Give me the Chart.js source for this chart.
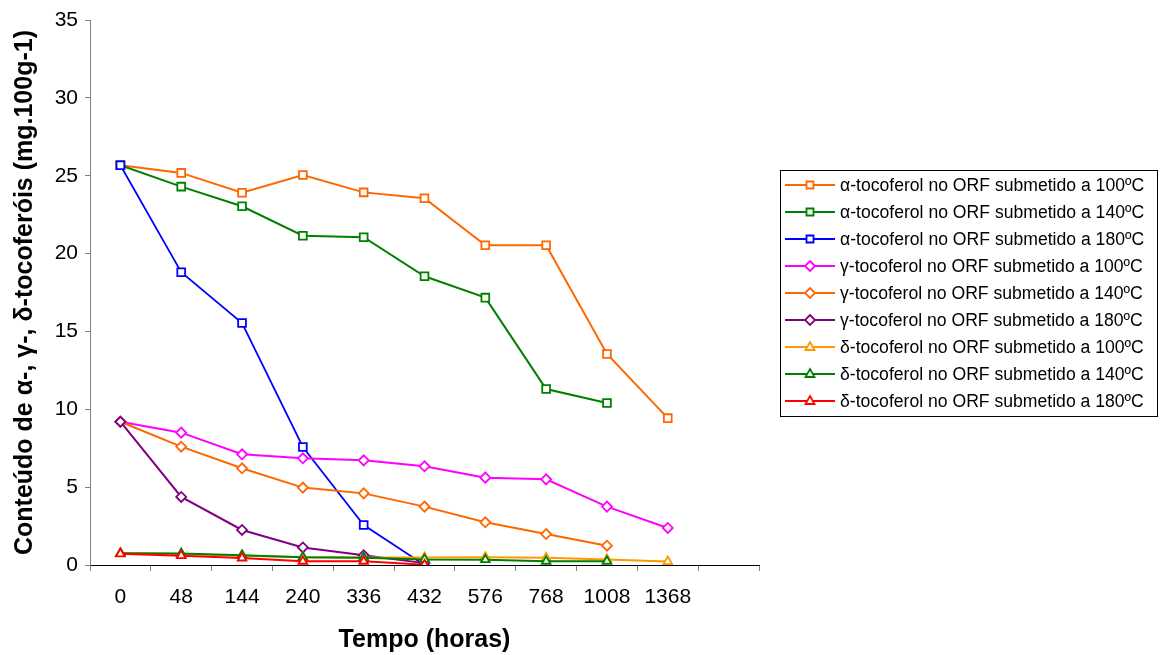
<!DOCTYPE html>
<html lang="pt">
  <head>
    <meta charset="UTF-8" />
    <title>Tocoferóis</title>
    <script src="https://cdn.jsdelivr.net/npm/chart.js@4"></script>
    <style>
      body { margin: 0; background: #fff; }
    </style>
  </head>
  <body>
    <canvas id="myChart" width="1160" height="655"></canvas>
    <script>
      // categorias do eixo x (o último espaço fica vazio, como no original)
      const tempos = ["0", "48", "144", "240", "336", "432", "576", "768", "1008", "1368", ""];

      const alfa100 = [25.67, 25.18, 23.91, 25.05, 23.93, 23.55, 20.53, 20.53, 13.55, 9.43];
      const alfa140 = [25.67, 24.3, 23.04, 21.15, 21.05, 18.54, 17.17, 11.3, 10.4];
      const alfa180 = [25.67, 18.8, 15.54, 7.58, 2.57, 0];
      const gama100 = [9.2, 8.5, 7.11, 6.85, 6.72, 6.34, 5.61, 5.5, 3.75, 2.38];
      const gama140 = [9.2, 7.6, 6.21, 4.97, 4.6, 3.75, 2.74, 1.99, 1.24];
      const gama180 = [9.2, 4.37, 2.25, 1.13, 0.62, 0.12];
      const delta100 = [0.75, 0.7, 0.6, 0.5, 0.48, 0.48, 0.5, 0.46, 0.36, 0.22];
      const delta140 = [0.75, 0.74, 0.63, 0.5, 0.47, 0.36, 0.34, 0.24, 0.24];
      const delta180 = [0.72, 0.6, 0.45, 0.24, 0.24, 0.02];

      const FONT = "'Liberation Sans', Arial, sans-serif";

      function serie(label, data, color, style, width) {
        return {
          label: label,
          data: data,
          borderColor: color,
          borderWidth: width || 2,
          backgroundColor: "#fff",
          pointStyle: style,
          pointRadius: style === "rect" ? 5.5 : 5,
          pointBorderWidth: 1.8,
          pointBorderColor: color,
          pointBackgroundColor: "#fff",
          tension: 0,
        };
      }

      const datasets = [
        serie("α-tocoferol no ORF submetido a 100ºC", alfa100, "#FF6600", "rect"),
        serie("α-tocoferol no ORF submetido a 140ºC", alfa140, "#008000", "rect"),
        serie("α-tocoferol no ORF submetido a 180ºC", alfa180, "#0000FF", "rect", 1.75),
        serie("γ-tocoferol no ORF submetido a 100ºC", gama100, "#FF00FF", "rectRot"),
        serie("γ-tocoferol no ORF submetido a 140ºC", gama140, "#FF6600", "rectRot"),
        serie("γ-tocoferol no ORF submetido a 180ºC", gama180, "#800080", "rectRot"),
        serie("δ-tocoferol no ORF submetido a 100ºC", delta100, "#FF9900", "triangle"),
        serie("δ-tocoferol no ORF submetido a 140ºC", delta140, "#008000", "triangle"),
        serie("δ-tocoferol no ORF submetido a 180ºC", delta180, "#FF0000", "triangle"),
      ];
      // séries posteriores desenhadas por cima (como no Excel)
      datasets.forEach((d, i) => (d.order = -i));

      function marker(ctx, style, x, y) {
        ctx.beginPath();
        if (style === "rect") {
          ctx.rect(x - 3.5, y - 3.5, 7, 7);
        } else if (style === "rectRot") {
          ctx.moveTo(x, y - 5);
          ctx.lineTo(x + 5, y);
          ctx.lineTo(x, y + 5);
          ctx.lineTo(x - 5, y);
          ctx.closePath();
        } else {
          ctx.moveTo(x, y - 5);
          ctx.lineTo(x + 4.5, y + 3);
          ctx.lineTo(x - 4.5, y + 3);
          ctx.closePath();
        }
        ctx.fill();
        ctx.stroke();
      }

      // legenda com caixa, à direita
      const legendBox = {
        id: "legendBox",
        afterDraw(chart) {
          const ctx = chart.ctx;
          const x0 = 780, y0 = 170, w = 377, h = 246;
          ctx.save();
          ctx.strokeStyle = "#000";
          ctx.lineWidth = 1;
          ctx.strokeRect(x0 + 0.5, y0 + 0.5, w, h);
          ctx.font = "17.6px " + FONT;
          ctx.textBaseline = "middle";
          ctx.fillStyle = "#000";
          chart.data.datasets.forEach((ds, i) => {
            const y = y0 + 15 + i * 27;
            ctx.strokeStyle = ds.borderColor;
            ctx.lineWidth = 2;
            ctx.beginPath();
            ctx.moveTo(785, y);
            ctx.lineTo(835, y);
            ctx.stroke();
            ctx.fillStyle = "#fff";
            ctx.lineWidth = 1.8;
            marker(ctx, ds.pointStyle, 810, y);
            ctx.fillStyle = "#000";
            ctx.fillText(ds.label, 840, y + 1);
          });
          ctx.restore();
        },
      };

      const ctx = document.getElementById("myChart").getContext("2d");
      const myChart = new Chart(ctx, {
        type: "line",
        data: { labels: tempos, datasets: datasets },
        options: {
          responsive: false,
          animation: false,
          devicePixelRatio: 1,
          layout: { padding: { left: 0, top: 20, right: 401, bottom: 0 } },
          plugins: {
            legend: { display: false },
            tooltip: { enabled: false },
          },
          scales: {
            x: {
              type: "category",
              offset: true,
              grid: {
                display: true,
                drawOnChartArea: false,
                offset: true,
                tickLength: 6,
                color: "#808080",
              },
              border: { color: "#000", width: 1 },
              ticks: {
                color: "#000",
                font: { family: FONT, size: 21 },
                padding: 14,
                maxRotation: 0,
                autoSkip: false,
              },
              title: {
                display: true,
                text: "Tempo (horas)",
                color: "#000",
                font: { family: FONT, size: 25, weight: "bold" },
                padding: { top: 0, bottom: 0 },
              },
              afterFit: (s) => { s.height = 90; },
            },
            y: {
              min: 0,
              max: 35,
              grid: {
                display: true,
                drawOnChartArea: false,
                tickLength: 5,
                color: "#808080",
              },
              border: { color: "#808080", width: 1 },
              ticks: {
                stepSize: 5,
                color: "#000",
                font: { family: FONT, size: 21 },
                padding: 7,
              },
              title: {
                display: true,
                text: "Conteúdo de α-, γ-, δ-tocoferóis (mg.100g-1)",
                color: "#000",
                font: { family: FONT, size: 25, weight: "bold" },
                padding: { top: 10, bottom: 0 },
              },
              afterFit: (s) => { s.width = 90; },
            },
          },
        },
        plugins: [legendBox],
      });
    </script>
  </body>
</html>
